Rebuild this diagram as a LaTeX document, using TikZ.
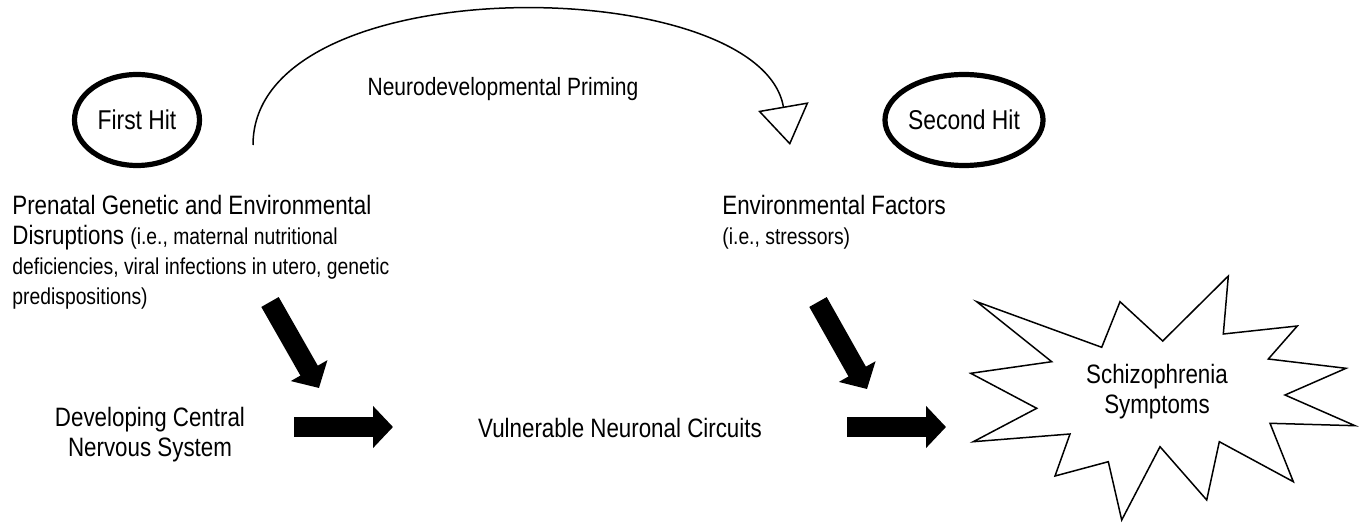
\documentclass[tikz,border=0pt]{standalone}
\usepackage{fontspec}
\setmainfont{Liberation Sans}[FakeStretch=0.84]
\usetikzlibrary{arrows.meta}
\usetikzlibrary{shapes.geometric}

\newcommand{\parenfont}{\fontsize{11.5}{15}\selectfont}

\begin{document}
\begin{tikzpicture}[x=0.5pt, y=-0.5pt,
  every node/.style={font=\fontsize{13.3}{15}\selectfont, inner sep=0pt},
  hit/.style={ellipse, draw, line width=2.6pt, minimum height=45.5pt,
    font=\fontsize{13.6}{15}\selectfont},
  blockarrow/.style={line width=10pt, -{Triangle[length=10pt, width=20.5pt]}}]
\useasboundingbox (0,0) rectangle (1363,523);

% the two hits
\node[hit, minimum width=62.5pt] (first) at (137,120) {First Hit};
\node[hit, minimum width=61.5pt] (second) at (964,120) {Second Hit};

% texts
\node[anchor=north west, align=left] (prenatal) at (12,195)
  {Prenatal Genetic and Environmental\\
   Disruptions {\parenfont (i.e., maternal nutritional}\\
   {\parenfont deficiencies, viral infections in utero, genetic}\\
   {\parenfont predispositions)}};
\node[anchor=north west, align=left] (envfactors) at (722,195)
  {Environmental Factors\\ {\parenfont (i.e., stressors)}};
\node[align=center] (devcns) at (150,435) {Developing Central\\ Nervous System};
\node (vulnerable) at (620,428) {Vulnerable Neuronal Circuits};
\node[font=\fontsize{12.5}{15}\selectfont] (priming) at (503,89) {Neurodevelopmental Priming};

% schizophrenia burst
\draw[line width=0.75pt, line join=miter]
     (976.7,301.7) -- (1051.7,361.7) -- (970.7,373.3) -- (1036.7,408.3)
  -- (973.3,441.7) -- (1070,434) -- (1055,476) -- (1108.3,461.7)
  -- (1121.7,520) -- (1160,446.7) -- (1206.7,500) -- (1219.3,441.7)
  -- (1293.3,481.7) -- (1270,423.3) -- (1355,425.7) -- (1285,395)
  -- (1346,368.3) -- (1268.3,359) -- (1297.3,326) -- (1223.3,334)
  -- (1228.3,276) -- (1162.7,341) -- (1120,301.7) -- (1101.7,347.3)
  -- cycle;
\node[align=center] (schizo) at (1157,392) {Schizophrenia\\ Symptoms};

% priming arc
\coordinate (primeS) at (253,145);
\coordinate (primeE) at (790,145);
\draw[line width=0.75pt, -{Triangle[open, length=19.5pt, width=25.5pt]}]
  (primeS) .. controls (253,-35) and (760,-28) .. (primeE);

% block arrows
\coordinate (hitA) at (270,302);
\coordinate (hitB) at (319,388);
\coordinate (hitC) at (818,302);
\coordinate (hitD) at (867,389);
\coordinate (flowA) at (294,427);
\coordinate (flowB) at (393,427);
\coordinate (flowC) at (847,427);
\coordinate (flowD) at (946,427);
\draw[blockarrow] (hitA) -- (hitB);
\draw[blockarrow] (hitC) -- (hitD);
\draw[blockarrow] (flowA) -- (flowB);
\draw[blockarrow] (flowC) -- (flowD);
\end{tikzpicture}
\end{document}
